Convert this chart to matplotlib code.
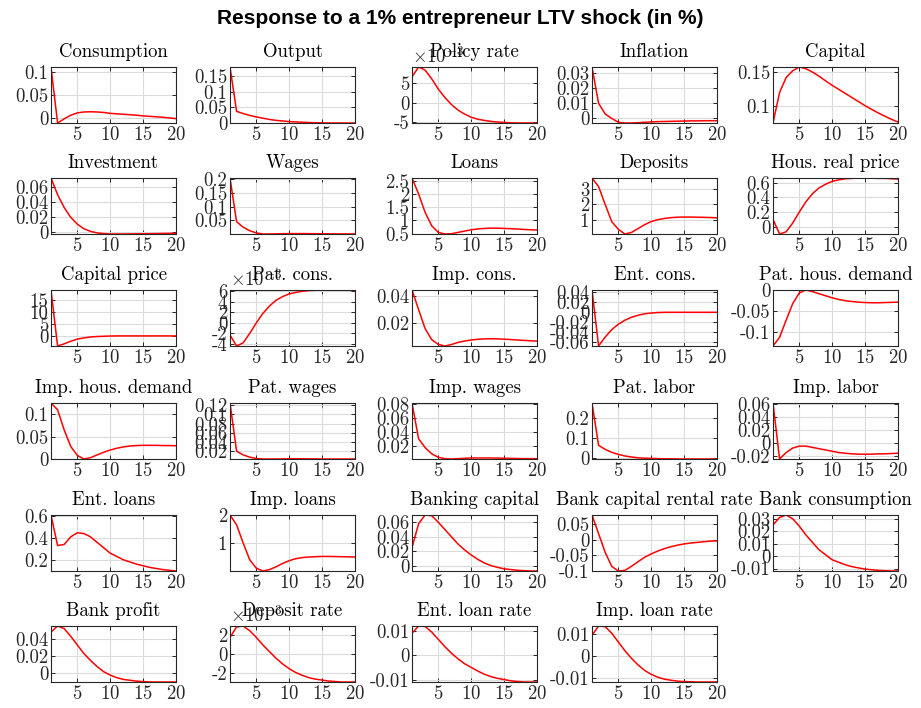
import numpy as np
import matplotlib
matplotlib.use("Agg")
import matplotlib.pyplot as plt
from matplotlib.ticker import FuncFormatter

plt.rcParams['font.family'] = 'serif'
plt.rcParams['font.serif'] = ['cmr10']
plt.rcParams['mathtext.fontset'] = 'cm'
plt.rcParams['axes.formatter.use_mathtext'] = True

horizon = np.arange(1, 21)

titles = ["Consumption", "Output", "Policy rate", "Inflation", "Capital",
          "Investment", "Wages", "Loans", "Deposits", "Hous. real price",
          "Capital price", "Pat. cons.", "Imp. cons.", "Ent. cons.", "Pat. hous. demand",
          "Imp. hous. demand", "Pat. wages", "Imp. wages", "Pat. labor", "Imp. labor",
          "Ent. loans", "Imp. loans", "Banking capital", "Bank capital rental rate", "Bank consumption",
          "Bank profit", "Deposit rate", "Ent. loan rate", "Imp. loan rate"]

# panels whose axis carries a x10^-3 multiplier (values below already scaled)
scaled = {"Policy rate": -3, "Pat. cons.": -3, "Deposit rate": -3}

consumption = [0.111, -0.011, -0.002, 0.006, 0.011, 0.013, 0.0135, 0.013, 0.012, 0.010,
               0.009, 0.008, 0.007, 0.006, 0.0045, 0.0035, 0.0025, 0.0015, 0.0, -0.0015]
output = [0.18, 0.037, 0.03, 0.024, 0.019, 0.015, 0.011, 0.008, 0.006, 0.004,
          0.003, 0.002, 0.001, 0.0003, -0.0002, -0.0004, -0.0005, -0.0005, -0.0005, -0.0005]
policy_rate = [6.5, 9.0, 8.2, 6.0, 3.4, 1.3, -0.5, -1.9, -2.9, -3.7,
               -4.2, -4.5, -4.75, -4.9, -5.0, -5.1, -5.15, -5.15, -5.15, -5.15]
inflation = [0.034, 0.010, 0.003, 0.0, -0.0025, -0.003, -0.003, -0.0028, -0.0025, -0.0023,
             -0.0021, -0.002, -0.0019, -0.0018, -0.0017, -0.0016, -0.0016, -0.0015, -0.0015, -0.0015]
capital = [0.075, 0.12, 0.142, 0.152, 0.1575, 0.155, 0.150, 0.144, 0.137, 0.1305,
           0.1245, 0.1185, 0.1125, 0.1065, 0.1005, 0.095, 0.0898, 0.085, 0.0805, 0.0765]
investment = [0.072, 0.05, 0.033, 0.02, 0.011, 0.005, 0.0015, -0.0005, -0.0015, -0.002,
              -0.002, -0.002, -0.0019, -0.0018, -0.0017, -0.0016, -0.0015, -0.0013, -0.0012, -0.001]
wages = [0.205, 0.045, 0.025, 0.012, 0.004, 0.0, 0.0002, 0.0005, 0.001, 0.0015,
         0.0015, 0.0015, 0.0013, 0.001, 0.0008, 0.0006, 0.0004, 0.0003, 0.0002, 0.0001]
loans = [2.6, 2.0, 1.3, 0.8, 0.55, 0.49, 0.5, 0.55, 0.6, 0.65,
         0.68, 0.7, 0.71, 0.71, 0.7, 0.69, 0.68, 0.66, 0.65, 0.64]
deposits = [3.7, 3.15, 2.0, 0.9, 0.4, 0.1, 0.2, 0.45, 0.7, 0.9,
            1.02, 1.1, 1.15, 1.18, 1.19, 1.19, 1.18, 1.17, 1.16, 1.14]
house_price = [0.1, -0.1, -0.07, 0.05, 0.2, 0.34, 0.45, 0.53, 0.58, 0.62,
               0.64, 0.655, 0.66, 0.665, 0.665, 0.665, 0.66, 0.66, 0.655, 0.65]
capital_price = [19.4, -4.2, -3.3, -2.2, -1.3, -0.8, -0.4, -0.2, -0.1, 0.0,
                 0.05, 0.05, 0.05, 0.05, 0.05, 0.05, 0.05, 0.05, 0.05, 0.05]
pat_cons = [-2.3, -4.4, -3.8, -2.0, 0.0, 1.8, 3.2, 4.3, 5.0, 5.5,
            5.8, 6.0, 6.15, 6.2, 6.25, 6.25, 6.25, 6.2, 6.2, 6.15]
imp_cons = [0.0443, 0.03, 0.016, 0.008, 0.0045, 0.0034, 0.0045, 0.006, 0.007, 0.0078,
            0.0083, 0.0086, 0.0087, 0.0086, 0.0084, 0.0081, 0.0078, 0.0075, 0.0072, 0.007]
ent_cons = [0.045, -0.068, -0.05, -0.035, -0.024, -0.016, -0.01, -0.006, -0.003, -0.0015,
            -0.0005, 0.0, 0.0, 0.0, 0.0, 0.0, 0.0, 0.0, 0.0, 0.0]
pat_house = [-0.135, -0.114, -0.072, -0.032, -0.006, 0.001, -0.003, -0.008, -0.013, -0.018,
             -0.022, -0.025, -0.027, -0.0285, -0.0295, -0.03, -0.03, -0.0295, -0.029, -0.0285]
imp_house = [0.125, 0.11, 0.065, 0.028, 0.008, 0.0, 0.003, 0.009, 0.015, 0.02,
             0.024, 0.027, 0.029, 0.03, 0.0305, 0.0305, 0.0305, 0.03, 0.03, 0.0295]
pat_wages = [0.125, 0.02, 0.012, 0.007, 0.004, 0.003, 0.003, 0.003, 0.0032, 0.0035,
             0.0035, 0.0035, 0.0033, 0.0032, 0.003, 0.003, 0.003, 0.003, 0.003, 0.003]
imp_wages = [0.082, 0.03, 0.017, 0.008, 0.003, 0.001, 0.0005, 0.001, 0.0015, 0.002,
             0.002, 0.002, 0.002, 0.0018, 0.0016, 0.0014, 0.0012, 0.001, 0.001, 0.0009]
pat_labor = [0.275, 0.065, 0.045, 0.03, 0.02, 0.012, 0.007, 0.003, 0.001, 0.0,
             -0.001, -0.002, -0.002, -0.003, -0.003, -0.003, -0.003, -0.003, -0.003, -0.003]
imp_labor = [0.062, -0.025, -0.015, -0.008, -0.005, -0.005, -0.007, -0.009, -0.011, -0.013,
             -0.015, -0.016, -0.017, -0.0175, -0.0175, -0.0175, -0.017, -0.017, -0.0165, -0.016]
ent_loans = [0.61, 0.33, 0.34, 0.41, 0.447, 0.44, 0.41, 0.36, 0.31, 0.26,
             0.23, 0.2, 0.18, 0.16, 0.145, 0.13, 0.12, 0.11, 0.103, 0.097]
imp_loans = [2.0, 1.65, 1.0, 0.4, 0.1, 0.0, 0.05, 0.15, 0.27, 0.37,
             0.44, 0.48, 0.5, 0.51, 0.52, 0.52, 0.515, 0.51, 0.505, 0.5]
bank_capital = [0.025, 0.058, 0.07, 0.069, 0.06, 0.05, 0.04, 0.03, 0.022, 0.015,
                0.009, 0.004, 0.0005, -0.002, -0.004, -0.005, -0.006, -0.0065, -0.007, -0.007]
bank_rental = [0.08, 0.02, -0.04, -0.085, -0.1, -0.098, -0.085, -0.07, -0.056, -0.045,
               -0.036, -0.028, -0.022, -0.017, -0.013, -0.01, -0.008, -0.006, -0.004, -0.003]
bank_cons = [0.025, 0.031, 0.033, 0.03, 0.024, 0.017, 0.011, 0.005, 0.001, -0.003,
             -0.005, -0.007, -0.0085, -0.0095, -0.0105, -0.011, -0.0115, -0.0118, -0.012, -0.012]
bank_profit = [0.048, 0.055, 0.052, 0.043, 0.033, 0.023, 0.015, 0.008, 0.002, -0.002,
               -0.005, -0.007, -0.008, -0.009, -0.0095, -0.01, -0.01, -0.01, -0.01, -0.01]
deposit_rate = [1.8, 2.9, 3.0, 2.5, 1.8, 1.0, 0.3, -0.4, -1.0, -1.5,
                -1.9, -2.2, -2.45, -2.6, -2.7, -2.8, -2.85, -2.9, -2.9, -2.9]
ent_loan_rate = [0.009, 0.012, 0.0118, 0.0095, 0.0065, 0.0035, 0.0008, -0.0015, -0.0035, -0.005,
                 -0.0065, -0.0078, -0.0088, -0.0095, -0.01, -0.0105, -0.0108, -0.011, -0.011, -0.011]
imp_loan_rate = [0.0095, 0.0138, 0.0135, 0.0105, 0.0065, 0.0025, -0.001, -0.004, -0.0065, -0.0083,
                 -0.0096, -0.0105, -0.011, -0.0114, -0.0116, -0.0117, -0.0118, -0.0118, -0.0118, -0.0118]

series = [consumption, output, policy_rate, inflation, capital,
          investment, wages, loans, deposits, house_price,
          capital_price, pat_cons, imp_cons, ent_cons, pat_house,
          imp_house, pat_wages, imp_wages, pat_labor, imp_labor,
          ent_loans, imp_loans, bank_capital, bank_rental, bank_cons,
          bank_profit, deposit_rate, ent_loan_rate, imp_loan_rate]

yticks = [[0, 0.05, 0.1], [0, 0.05, 0.1, 0.15], [-5, 0, 5], [0, 0.01, 0.02, 0.03], [0.1, 0.15],
          [0, 0.02, 0.04, 0.06], [0.05, 0.1, 0.15, 0.2], [0.5, 1, 1.5, 2, 2.5], [1, 2, 3], [0, 0.2, 0.4, 0.6],
          [0, 5, 10, 15], [-4, -2, 0, 2, 4, 6], [0.02, 0.04], [-0.06, -0.04, -0.02, 0, 0.02, 0.04], [-0.1, -0.05, 0],
          [0, 0.05, 0.1], [0.02, 0.04, 0.06, 0.08, 0.1, 0.12], [0.02, 0.04, 0.06, 0.08], [0, 0.1, 0.2], [-0.02, 0, 0.02, 0.04, 0.06],
          [0.2, 0.4, 0.6], [1, 2], [0, 0.02, 0.04, 0.06], [-0.1, -0.05, 0, 0.05], [-0.01, 0, 0.01, 0.02, 0.03],
          [0, 0.02, 0.04], [-2, 0, 2], [-0.01, 0, 0.01], [-0.01, 0, 0.01]]

fig = plt.figure(figsize=(9.21, 7.08), dpi=100)
W, H = 921, 708
lefts = [51, 230, 412, 592, 773]
tops = [67, 178, 290, 403, 515, 626]
aw, ah = 125, 56

fmt = FuncFormatter(lambda v, p: "%g" % v)
dark = (0.15, 0.15, 0.15)

for i, (name, vals) in enumerate(zip(titles, series)):
    r, c = divmod(i, 5)
    ax = fig.add_axes([lefts[c] / W, 1 - (tops[r] + ah) / H, aw / W, ah / H])
    ax.plot(horizon, vals, color='red', lw=1.1)
    ax.set_xlim(1, 20)
    ax.set_ylim(min(vals), max(vals))
    ax.set_xticks([5, 10, 15, 20])
    ax.set_yticks(yticks[i])
    ax.yaxis.set_major_formatter(fmt)
    ax.grid(True, color=(0.86, 0.86, 0.86), lw=0.8)
    ax.set_axisbelow(True)
    ax.tick_params(direction='in', length=3, width=0.7, colors=dark, labelsize=13.5,
                   top=True, right=True, pad=2)
    for sp in ax.spines.values():
        sp.set_color(dark)
        sp.set_linewidth(0.8)
    ax.set_title(name, fontsize=13.5, pad=7, color='black')
    if name in scaled:
        ax.text(0.0, 1.0, r"$\times 10^{%d}$" % scaled[name], transform=ax.transAxes,
                ha='left', va='bottom', fontsize=13.5, color=dark)

fig.text(0.5, 1 - 18 / H, "Response to a 1% entrepreneur LTV shock (in %)",
         ha='center', va='center', fontsize=15, fontweight='bold', family='Liberation Sans')

fig.savefig("out.png", dpi=100)
